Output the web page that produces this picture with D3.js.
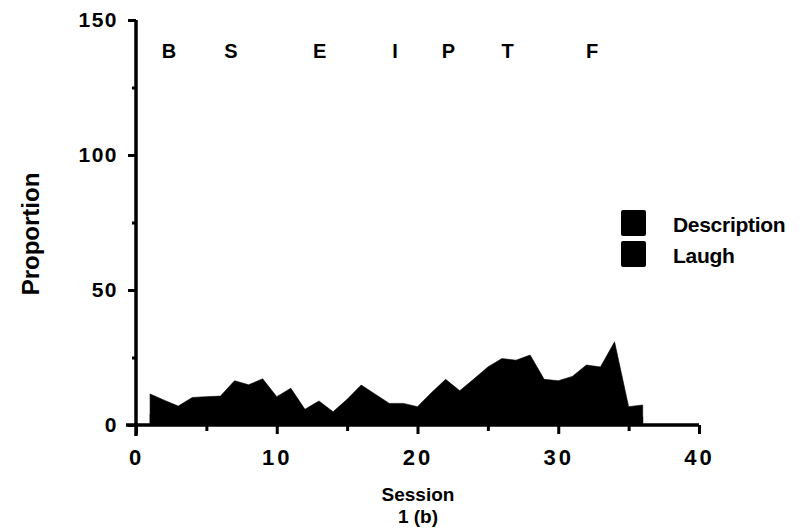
<!DOCTYPE html>
<html>
<head>
<meta charset="utf-8">
<script src="https://cdn.jsdelivr.net/npm/d3@7"></script>
<style>
  body { margin: 0; background: #fff; }
  text { font-family: "Liberation Sans", Arial, sans-serif; font-weight: bold; fill: #000; }
</style>
</head>
<body>
<div id="chart"></div>
<script>
// data
const sessions = [1, 2, 3, 4, 5, 6, 7, 8, 9, 10, 11, 12, 13, 14, 15, 16, 17, 18,
  19, 20, 21, 22, 23, 24, 25, 26, 27, 28, 29, 30, 31, 32, 33, 34, 35, 36];
const laugh = [4, 3, 3, 4, 4, 4, 6, 5, 6, 4, 5, 2, 3, 2, 3, 5, 4, 3,
  3, 2, 4, 6, 5, 6, 8, 9, 9, 9, 8, 7, 7, 8, 8, 11, 3, 3];
const description = [7.5, 6.2, 4, 6.2, 6.5, 6.7, 10.4, 9.9, 11.1, 6.5, 8.6, 3.8, 5.9, 2.9, 6.5, 9.8, 7.4, 5,
  5, 4.8, 8, 10.9, 7.7, 11, 13.5, 15.6, 15, 16.9, 8.9, 9.4, 11, 14.2, 13.5, 19.8, 3.8, 4.4];
const phaseLabels = ["B", "S", "E", "I", "P", "T", "F"];
const phasePos = [2.35, 6.75, 13.05, 18.4, 22.2, 26.4, 32.4];
const seriesNames = ["Description", "Laugh"];
const xTicks = [0, 10, 20, 30, 40];
const xMinor = [5, 15, 25, 35];
const yTicks = [0, 50, 100, 150];
const yMinor = [25, 75, 125];

const width = 810;
const height = 530;

const svg = d3.select("#chart")
  .append("svg")
  .attr("width", width)
  .attr("height", height);

const x = d3.scaleLinear().domain([0, 40]).range([136, 699]);
const y = d3.scaleLinear().domain([0, 150]).range([425, 20]);

// stacked areas (both black in the original)
const rows = sessions.map((s, i) => ({ session: s, Laugh: laugh[i], Description: description[i] }));
const stacked = d3.stack().keys(["Laugh", "Description"])(rows);

// each layer filled down to the baseline so no seam shows between them
const area = d3.area()
  .x(d => x(d.data.session))
  .y0(y(0))
  .y1(d => y(d[1]));

svg.append("g")
  .selectAll("path")
  .data(stacked.slice().reverse())
  .join("path")
  .attr("d", area)
  .attr("fill", "#000")
  .attr("stroke", "#000")
  .attr("stroke-width", 0.6);

// axes
const xAxisG = svg.append("g")
  .attr("transform", `translate(0,${y(0)})`)
  .call(d3.axisBottom(x).tickValues(xTicks).tickSize(9).tickPadding(15));
svg.append("g")
  .attr("transform", `translate(0,${y(0)})`)
  .call(d3.axisBottom(x).tickValues(xMinor).tickSize(6).tickFormat(""));

const yAxisG = svg.append("g")
  .attr("transform", `translate(${x(0)},0)`)
  .call(d3.axisLeft(y).tickValues(yTicks).tickSize(8).tickPadding(10));
svg.append("g")
  .attr("transform", `translate(${x(0)},0)`)
  .call(d3.axisLeft(y).tickValues(yMinor).tickSize(4).tickFormat(""));

svg.selectAll(".domain").remove();
svg.selectAll(".tick line").attr("stroke", "#000").attr("stroke-width", 3);
xAxisG.selectAll(".tick text")
  .style("font-size", "22px")
  .style("letter-spacing", "3px");
yAxisG.selectAll(".tick text")
  .style("font-size", "21px")
  .style("letter-spacing", "1.5px");

// axis lines
svg.append("line")
  .attr("x1", x(0) - 10).attr("x2", x(40))
  .attr("y1", y(0)).attr("y2", y(0))
  .attr("stroke", "#000").attr("stroke-width", 3.5);
svg.append("line")
  .attr("x1", x(0)).attr("x2", x(0))
  .attr("y1", y(150)).attr("y2", y(0) + 11)
  .attr("stroke", "#000").attr("stroke-width", 3.5);

// phase letters
svg.append("g")
  .selectAll("text")
  .data(phaseLabels)
  .join("text")
  .attr("x", (d, i) => x(phasePos[i]))
  .attr("y", 58)
  .attr("text-anchor", "middle")
  .style("font-size", "20px")
  .text(d => d);

// axis titles
svg.append("text")
  .attr("x", 418).attr("y", 501)
  .attr("text-anchor", "middle")
  .style("font-size", "19px")
  .text("Session");
svg.append("text")
  .attr("x", 418).attr("y", 523)
  .attr("text-anchor", "middle")
  .style("font-size", "19px")
  .text("1 (b)");
svg.append("text")
  .attr("transform", "translate(39,234) rotate(-90)")
  .attr("text-anchor", "middle")
  .style("font-size", "24px")
  .text("Proportion");

// legend
const legend = svg.append("g").attr("transform", "translate(621,210)");
const item = legend.selectAll("g")
  .data(seriesNames)
  .join("g")
  .attr("transform", (d, i) => `translate(0,${i * 31})`);
item.append("rect")
  .attr("width", 25).attr("height", 26).attr("rx", 2)
  .attr("fill", "#000");
item.append("text")
  .attr("x", 52).attr("y", 22)
  .style("font-size", "21px")
  .style("letter-spacing", "-0.3px")
  .text(d => d);
</script>
</body>
</html>
